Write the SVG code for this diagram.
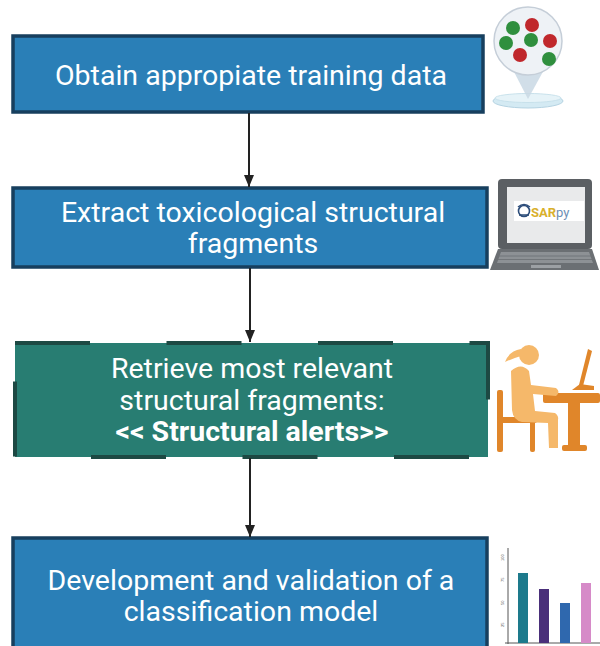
<svg xmlns="http://www.w3.org/2000/svg" width="600" height="646" viewBox="0 0 600 646">
  <style>
    .step { fill: #2a7fb7; stroke: #173f5e; stroke-width: 3.5; }
    .alert { fill: none; stroke: #1d4943; stroke-width: 4; stroke-dasharray: 75 76.5; }
    .label { font-family: Roboto, "Liberation Sans", sans-serif; font-size: 28.5px; fill: #ffffff; text-anchor: middle; }
    .bold { font-weight: bold; }
    .conn { stroke: #222222; stroke-width: 2; fill: none; marker-end: url(#arrow); }
    .tick { font-family: "Liberation Sans", sans-serif; font-size: 4px; fill: #555555; }
  </style>
  <defs>
    <marker id="arrow" viewBox="0 0 12 10" refX="12" refY="5" markerWidth="12" markerHeight="10" markerUnits="userSpaceOnUse" orient="auto">
      <path d="M0,0 L12,5 L0,10 Z" fill="#222222"/>
    </marker>
  </defs>

  <rect width="600" height="646" fill="#ffffff"/>

  <!-- process steps -->
  <g id="step-data">
    <rect class="step" x="13" y="36" width="470" height="76"/>
    <text class="label" x="251" y="85">Obtain appropiate training data</text>
  </g>
  <g id="step-extract">
    <rect class="step" x="13" y="188" width="474" height="79"/>
    <text class="label" x="253" y="222">Extract toxicological structural</text>
    <text class="label" x="253" y="253">fragments</text>
  </g>
  <g id="step-alerts">
    <rect x="15" y="343" width="473" height="114" fill="#287d72"/>
    <rect class="alert" x="15" y="343" width="473" height="114"/>
    <text class="label" x="252" y="378">Retrieve most relevant</text>
    <text class="label" x="252" y="410">structural fragments:</text>
    <text class="label bold" x="252" y="441">&lt;&lt; Structural alerts&gt;&gt;</text>
  </g>
  <g id="step-model">
    <rect class="step" x="13" y="538" width="474" height="120"/>
    <text class="label" x="251" y="590">Development and validation of a</text>
    <text class="label" x="251" y="621">classification model</text>
  </g>

  <!-- connectors -->
  <g id="connectors">
    <line class="conn" x1="249" y1="113" x2="249" y2="187"/>
    <line class="conn" x1="250" y1="268" x2="250" y2="342"/>
    <line class="conn" x1="250" y1="458" x2="250" y2="537"/>
  </g>

  <!-- icon: petri dish with magnified colonies -->
  <g id="icon-dish">
    <ellipse cx="528" cy="101" rx="35" ry="7" fill="#d4eaf3" stroke="#b5d3e2" stroke-width="1"/>
    <ellipse cx="528" cy="98" rx="33" ry="4.5" fill="#e6f3f8" stroke="#c2dde9" stroke-width="0.8"/>
    <path d="M512,68 L528,99 L545,68 Z" fill="#c9d8e4" opacity="0.85"/>
    <circle cx="528" cy="41" r="34" fill="#eef2f6" stroke="#c5ced8" stroke-width="1.5"/>
    <circle cx="513" cy="28" r="7" fill="#2f8f3e"/>
    <circle cx="532" cy="25" r="7" fill="#c0282c"/>
    <circle cx="506" cy="43" r="7" fill="#2f8f3e"/>
    <circle cx="531" cy="40" r="7" fill="#2f8f3e"/>
    <circle cx="550" cy="41" r="7" fill="#c0282c"/>
    <circle cx="520" cy="55" r="7" fill="#c0282c"/>
    <circle cx="549" cy="59" r="7" fill="#2f8f3e"/>
  </g>

  <!-- icon: laptop running SARpy -->
  <g id="icon-laptop">
    <rect x="498" y="179" width="94" height="70" rx="4" fill="#5b5f63"/>
    <rect x="507" y="187" width="78" height="56" fill="#e9eaeb"/>
    <rect x="514" y="201" width="70" height="20" fill="#ffffff"/>
    <g fill="none" stroke="#2d4d7a" stroke-width="1.6">
      <circle cx="524" cy="211" r="5.5"/>
      <path d="M518,207 Q524,202 530,207 M519,215 L529,215"/>
    </g>
    <text x="531" y="217" font-family="Roboto, 'Liberation Sans', sans-serif" font-size="13" font-weight="bold" fill="#d9b02c">SAR<tspan font-weight="normal" fill="#6d8fb6">py</tspan></text>
    <path d="M498,249 L592,249 L599,270 L490,270 Z" fill="#6b6f73"/>
    <path d="M501,252 L589,252 L593,263 L497,263 Z" fill="#8d9195"/>
    <g stroke="#6b6f73" stroke-width="0.8">
      <line x1="499" y1="256" x2="591" y2="256"/>
      <line x1="498" y1="259.5" x2="592" y2="259.5"/>
    </g>
    <rect x="531" y="265" width="30" height="3" fill="#9ca0a4"/>
  </g>

  <!-- icon: person working at a desk -->
  <g id="icon-desk">
    <!-- chair -->
    <g fill="#e0862a">
      <rect x="497" y="390" width="6" height="62" rx="2"/>
      <rect x="497" y="417" width="40" height="6" rx="2"/>
      <rect x="530" y="420" width="5" height="32" rx="2"/>
    </g>
    <!-- desk and monitor -->
    <g fill="#e0862a">
      <rect x="543" y="393" width="57" height="10" rx="2"/>
      <rect x="568" y="400" width="12" height="48" />
      <rect x="562" y="445" width="25" height="6" rx="2"/>
      <path d="M588,349 L592,351 L583,386 L579,385 Z"/>
      <path d="M580,384 L594,386 L594,390 L572,390 Z"/>
    </g>
    <!-- person -->
    <g fill="#f5b86a">
      <circle cx="529" cy="355" r="10"/>
      <path d="M521,349 Q509,351 505,362 Q514,358 521,356 Z"/>
      <path d="M511,371 Q521,362 529,371 L531,385 L556,388 Q561,392 556,396 L533,394 L535,411 L555,413 Q559,416 558,420 L558,448 L549,448 L548,423 L522,422 Q513,420 512,410 Z"/>
    </g>
  </g>

  <!-- icon: bar chart -->
  <g id="icon-chart">
    <line x1="508" y1="548" x2="508" y2="644" stroke="#555555" stroke-width="1"/>
    <line x1="505" y1="643" x2="600" y2="643" stroke="#555555" stroke-width="1"/>
    <text class="tick" transform="translate(504,561) rotate(-90)">100</text>
    <text class="tick" transform="translate(504,582) rotate(-90)">75</text>
    <text class="tick" transform="translate(504,605) rotate(-90)">50</text>
    <text class="tick" transform="translate(504,627) rotate(-90)">25</text>
    <rect x="518" y="573" width="10" height="70" fill="#1d7a8c"/>
    <rect x="539" y="589" width="10" height="54" fill="#4a2f7a"/>
    <rect x="560" y="603" width="10" height="40" fill="#2f68ae"/>
    <rect x="581" y="583" width="10" height="60" fill="#d68ac8"/>
  </g>
</svg>
